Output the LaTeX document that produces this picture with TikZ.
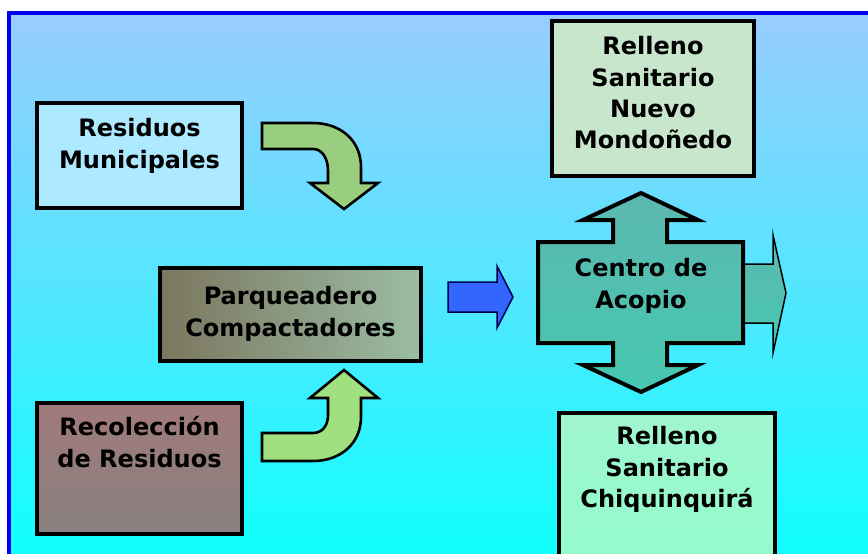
\documentclass[tikz,border=0pt]{standalone}
\usepackage{fontspec}
\setmainfont{DejaVu Sans}
\definecolor{bgtop}{HTML}{99CCFF}
\definecolor{bgmid}{HTML}{6CE4FF}
\definecolor{bgbot}{HTML}{10FFFF}
\definecolor{frameblue}{HTML}{0000EE}
\definecolor{rmfill}{HTML}{AEEAFF}
\definecolor{pqleft}{HTML}{7B765F}
\definecolor{pqright}{HTML}{9BBDA3}
\definecolor{rctop}{HTML}{A27A7A}
\definecolor{rcbot}{HTML}{888080}
\definecolor{mofill}{HTML}{C8E6CC}
\definecolor{chtop}{HTML}{A0F6CE}
\definecolor{chbot}{HTML}{90FCCC}
\definecolor{catop}{HTML}{5CB8B0}
\definecolor{cabot}{HTML}{46C8B0}
\definecolor{gtop}{HTML}{98CE7E}
\definecolor{gbot}{HTML}{A0E07E}
\definecolor{bluearrow}{HTML}{3366FF}
\begin{document}
\begin{tikzpicture}[x=1pt,y=-1pt,
  box/.style={draw=black, line width=4pt, inner sep=0pt},
  txt/.style={font=\fontsize{24}{31.3}\selectfont\bfseries, align=center, inner sep=0pt, anchor=north, text=black},
  bent/.style={draw=black, line width=2.6pt, line join=miter},
  cross/.style={draw=black, line width=4pt, line join=miter, top color=catop, bottom color=cabot},
]
\useasboundingbox (0,0) rectangle (868,554);
\fill[white] (0,0) rectangle (868,554);
\shade[top color=bgtop, middle color=bgmid, bottom color=bgbot] (7,11) rectangle (868,554);
\draw[frameblue, line width=4pt] (7,13) -- (868,13);
\draw[frameblue, line width=4pt] (9,11) -- (9,554);

% boxes
\node[box, fill=rmfill, minimum width=205pt, minimum height=105pt] (rm) at (139.5,155.5) {};
\node[box, left color=pqleft, right color=pqright, minimum width=261pt, minimum height=93pt] (pq) at (290.5,314.5) {};
\node[box, top color=rctop, bottom color=rcbot, minimum width=205pt, minimum height=131pt] (rc) at (139.5,468.5) {};
\node[box, fill=mofill, minimum width=202pt, minimum height=155pt] (mo) at (653,98.5) {};
\node[box, top color=chtop, bottom color=chbot, minimum width=216pt, minimum height=185pt] (ch) at (667,505.5) {};

% texts
\node[txt] (trm) at (139.5,118.5) {Residuos\\Municipales};
\node[txt] (tpq) at (290.5,286.5) {Parqueadero\\Compactadores};
\node[txt] (trc) at (139.5,416.5) {Recolección\\de Residuos};
\node[txt] (tmo) at (653,36.5) {Relleno\\Sanitario\\Nuevo\\Mondoñedo};
\node[txt] (tch) at (667,426.5) {Relleno\\Sanitario\\Chiquinquirá};

% right arrow behind cross
\draw[draw=black, line width=1.5pt, line join=miter, top color=catop, bottom color=cabot]
  (735,264) -- (773,264) -- (773,235) -- (786,293) -- (773,353) -- (773,323) -- (735,323);

% cross
\draw[cross] (538,242) -- (613,242) -- (613,220) -- (583,220) -- (641,193) -- (698,220) -- (667,220) -- (667,242)
  -- (743,242) -- (743,343) -- (667,343) -- (667,365) -- (698,365) -- (641,392) -- (583,365) -- (613,365)
  -- (613,343) -- (538,343) -- cycle;
\node[txt] (tca) at (641,258.5) {Centro de\\Acopio};

% blue arrow
\draw[draw=black!70!blue, line width=1.5pt, line join=miter, fill=bluearrow]
  (448,282) -- (497,282) -- (497,266) -- (513,297) -- (497,328) -- (497,312) -- (448,312) -- cycle;

% green bent arrows
\draw[bent, fill=gtop] (262,123) -- (313,123) .. controls (340,123) and (361,140) .. (361,167)
  -- (361,183) -- (378,183) -- (344,209) -- (310,183) -- (328,183) -- (328,171)
  .. controls (328,158) and (322,149) .. (313,149) -- (262,149) -- cycle;
\draw[bent, fill=gbot] (262,461) -- (313,461) .. controls (340,461) and (361,444) .. (361,417)
  -- (361,398) -- (378,398) -- (344,370) -- (310,398) -- (328,398) -- (328,415)
  .. controls (328,426) and (322,433) .. (313,433) -- (262,433) -- cycle;
\end{tikzpicture}
\end{document}
